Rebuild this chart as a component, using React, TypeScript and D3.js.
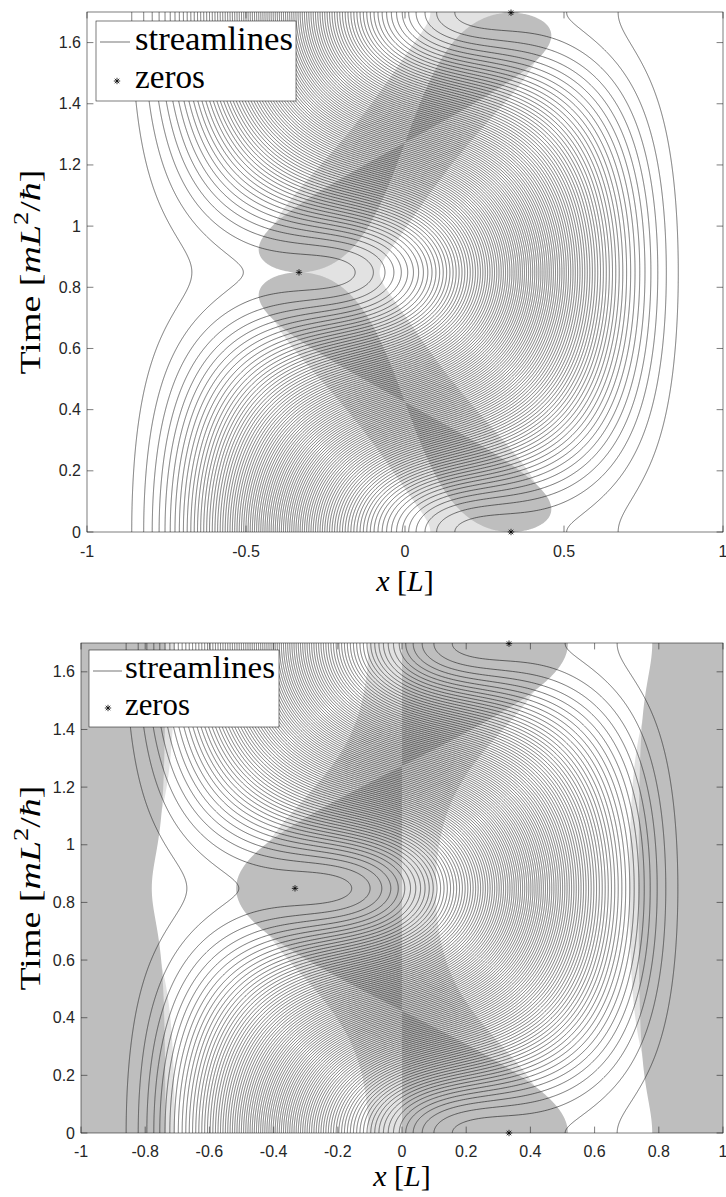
import React, { useMemo } from "react";
import * as d3 from "d3";

// Two lowest eigenstates of an infinite well on [-1, 1] (units L, mL²/ħ; ħ = m = 1)
const X_DOMAIN: [number, number] = [-1, 1];
const T_DOMAIN: [number, number] = [0, 1.7];
const quantumNumbers = [1, 2];
const coefficients = [1, 1];

// nodes of ψ(x, t)
const zeroX = [1 / 3, -1 / 3, 1 / 3];
const zeroT = [0, 0.8488, 1.6977];

// number of streamlines (equal probability between neighbours)
const streamlineCount = 99;

const timeTicks = [0, 0.2, 0.4, 0.6, 0.8, 1, 1.2, 1.4, 1.6];
const xTicksTop = [-1, -0.5, 0, 0.5, 1];
const xTicksBottom = [-1, -0.8, -0.6, -0.4, -0.2, 0, 0.2, 0.4, 0.6, 0.8, 1];
const legendLabels = ["streamlines", "zeros"];

const WIDTH = 726;
const HEIGHT = 1197;

const wavenumbers = quantumNumbers.map((n) => (n * Math.PI) / (X_DOMAIN[1] - X_DOMAIN[0]));
const energies = wavenumbers.map((k) => (k * k) / 2);
const K_MAX = Math.max(...wavenumbers);

// ψ, ψ', ψ'' (real and imaginary parts) at (x, t)
function wave(x: number, t: number): number[] {
  let re = 0, im = 0, dre = 0, dim = 0, d2re = 0, d2im = 0;
  for (let n = 0; n < wavenumbers.length; n++) {
    const k = wavenumbers[n];
    const a = coefficients[n];
    const cp = Math.cos(energies[n] * t);
    const sp = -Math.sin(energies[n] * t);
    const arg = k * (x - X_DOMAIN[0]);
    const sn = Math.sin(arg);
    const cs = Math.cos(arg);
    re += a * sn * cp;
    im += a * sn * sp;
    dre += a * k * cs * cp;
    dim += a * k * cs * sp;
    d2re -= a * k * k * sn * cp;
    d2im -= a * k * k * sn * sp;
  }
  return [re, im, dre, dim, d2re, d2im];
}

// streamlines: level curves of the cumulative probability ∫ρ dx
function computeStreamlines(): [number, number][][] {
  const NXS = 1601;
  const NTS = 1191;
  const dx = (X_DOMAIN[1] - X_DOMAIN[0]) / (NXS - 1);
  const F = new Float64Array(NXS);
  const lines: [number, number][][] = d3.range(streamlineCount).map(() => []);
  for (let j = 0; j < NTS; j++) {
    const t = T_DOMAIN[0] + ((T_DOMAIN[1] - T_DOMAIN[0]) * j) / (NTS - 1);
    let prev = 0;
    F[0] = 0;
    for (let i = 0; i < NXS; i++) {
      const w = wave(X_DOMAIN[0] + i * dx, t);
      const rho = w[0] * w[0] + w[1] * w[1];
      if (i > 0) F[i] = F[i - 1] + 0.5 * (prev + rho) * dx;
      prev = rho;
    }
    const total = F[NXS - 1];
    let p = 0;
    for (let k = 0; k < streamlineCount; k++) {
      const level = (total * (k + 1)) / (streamlineCount + 1);
      while (p < NXS - 2 && F[p + 1] < level) p++;
      const span = F[p + 1] - F[p];
      const f = span > 0 ? (level - F[p]) / span : 0;
      lines[k].push([X_DOMAIN[0] + (p + f) * dx, t]);
    }
  }
  return lines;
}

const NX = 640;
const NY = 546;
const gridDx = (X_DOMAIN[1] - X_DOMAIN[0]) / (NX - 1);
const gridDt = (T_DOMAIN[1] - T_DOMAIN[0]) / (NY - 1);

function computeRegions() {
  const size = NX * NY;
  const negQuantumPotential = new Array(size);
  const fastPhase = new Array(size);
  const highKinetic = new Array(size);
  const convexDensity = new Array(size);
  for (let j = 0; j < NY; j++) {
    const t = T_DOMAIN[0] + j * gridDt;
    for (let i = 0; i < NX; i++) {
      const x = X_DOMAIN[0] + i * gridDx;
      const [re, im, dre, dim, d2re, d2im] = wave(x, t);
      const rho = re * re + im * im;
      const grad2 = dre * dre + dim * dim;
      const curv = re * d2re + im * d2im; // Re(ψ* ψ'')
      const current = re * dim - im * dre; // Im(ψ* ψ')
      const idx = j * NX + i;
      // Bohm quantum potential Q = E_loc - v²/2 < 0
      negQuantumPotential[idx] = curv * rho + current * current - 1e-14;
      // Bohm kinetic energy v²/2 above the largest eigenenergy
      fastPhase[idx] = Math.abs(current) - K_MAX * rho - 1e-9;
      // |ψ'|²/(2ρ) above the largest eigenenergy
      highKinetic[idx] = grad2 - K_MAX * K_MAX * rho;
      // ∂²ρ/∂x² > 0, i.e. E_loc - |ψ'|²/(2ρ) < 0
      convexDensity[idx] = grad2 + curv;
    }
  }
  const gen = d3.contours().size([NX, NY]).thresholds([0]);
  return {
    negQuantumPotential: gen(negQuantumPotential)[0],
    fastPhase: gen(fastPhase)[0],
    highKinetic: gen(highKinetic)[0],
    convexDensity: gen(convexDensity)[0],
  };
}

type Frame = { left: number; right: number; top: number; bottom: number };
type Legend = {
  x: number; y: number; w: number; h: number;
  lineX0: number; lineX1: number; lineY: number;
  textX: number; base1: number; base2: number;
  fontSize: number; len1: number; len2: number;
  starX: number; starY: number;
};

function asterisk(cx: number, cy: number, r: number) {
  const d = r * 0.7071;
  return `M${cx - r},${cy}L${cx + r},${cy}M${cx},${cy - r}L${cx},${cy + r}M${cx - d},${cy - d}L${cx + d},${cy + d}M${cx - d},${cy + d}L${cx + d},${cy - d}`;
}

const AXIS = "#262626";
const LINE = "#1a1a1a";

function Panel(props: {
  id: string;
  frame: Frame;
  xTicks: number[];
  layers: { geom: any; fill: string }[];
  lines: [number, number][][];
  legend: Legend;
  xLabelY: number;
  tickLabelY: number;
}) {
  const { id, frame, xTicks, layers, lines, legend, xLabelY, tickLabelY } = props;
  const xs = d3.scaleLinear().domain(X_DOMAIN).range([frame.left, frame.right]);
  const ys = d3.scaleLinear().domain(T_DOMAIN).range([frame.bottom, frame.top]);
  const proj = d3.geoTransform({
    point: function (px: number, py: number) {
      (this as any).stream.point(
        xs(X_DOMAIN[0] + (px - 0.5) * gridDx),
        ys(T_DOMAIN[0] + (py - 0.5) * gridDt)
      );
    },
  });
  const areaPath = d3.geoPath(proj as any);
  const linePath = d3
    .line<[number, number]>()
    .x((d) => xs(d[0]))
    .y((d) => ys(d[1]));
  const tickLen = 6.4;
  const midY = (frame.top + frame.bottom) / 2;
  const midX = (frame.left + frame.right) / 2;
  return (
    <g>
      <defs>
        <clipPath id={id}>
          <rect x={frame.left} y={frame.top} width={frame.right - frame.left} height={frame.bottom - frame.top} />
        </clipPath>
      </defs>
      <g clipPath={`url(#${id})`}>
        {layers.map((l, i) => (
          <path key={i} d={areaPath(l.geom) || ""} fill={l.fill} stroke="none" />
        ))}
        {lines.map((ln, i) => (
          <path key={i} d={linePath(ln) || ""} fill="none" stroke={LINE} strokeWidth={0.6} />
        ))}
      </g>
      {/* frame and ticks */}
      <rect
        x={frame.left}
        y={frame.top}
        width={frame.right - frame.left}
        height={frame.bottom - frame.top}
        fill="none"
        stroke={AXIS}
        strokeWidth={0.6}
      />
      {xTicks.map((v) => (
        <g key={`x${v}`}>
          <line x1={xs(v)} x2={xs(v)} y1={frame.bottom} y2={frame.bottom - tickLen} stroke={AXIS} strokeWidth={0.6} />
          <line x1={xs(v)} x2={xs(v)} y1={frame.top} y2={frame.top + tickLen} stroke={AXIS} strokeWidth={0.6} />
          <text x={xs(v)} y={tickLabelY} textAnchor="middle" fontFamily="Liberation Sans, Arial, sans-serif" fontSize={16} fill={AXIS}>
            {String(v)}
          </text>
        </g>
      ))}
      {timeTicks.map((v) => (
        <g key={`t${v}`}>
          <line x1={frame.left} x2={frame.left + tickLen} y1={ys(v)} y2={ys(v)} stroke={AXIS} strokeWidth={0.6} />
          <line x1={frame.right} x2={frame.right - tickLen} y1={ys(v)} y2={ys(v)} stroke={AXIS} strokeWidth={0.6} />
          <text x={frame.left - 6} y={ys(v) + 5.5} textAnchor="end" fontFamily="Liberation Sans, Arial, sans-serif" fontSize={16} fill={AXIS}>
            {String(v)}
          </text>
        </g>
      ))}
      {/* nodes */}
      {zeroX.map((zx, i) => (
        <path key={`z${i}`} d={asterisk(xs(zx), ys(zeroT[i]), 3.2)} stroke="#000" strokeWidth={0.8} fill="none" />
      ))}
      {/* legend */}
      <rect x={legend.x} y={legend.y} width={legend.w} height={legend.h} fill="#fff" stroke={AXIS} strokeWidth={0.6} />
      <line x1={legend.lineX0} x2={legend.lineX1} y1={legend.lineY} y2={legend.lineY} stroke={LINE} strokeWidth={0.6} />
      <text x={legend.textX} y={legend.base1} fontFamily="Liberation Serif, Times New Roman, serif" fontSize={legend.fontSize} textLength={legend.len1} lengthAdjust="spacingAndGlyphs" fill="#000">
        {legendLabels[0]}
      </text>
      <path d={asterisk(legend.starX, legend.starY, 3.2)} stroke="#000" strokeWidth={0.8} fill="none" />
      <text x={legend.textX} y={legend.base2} fontFamily="Liberation Serif, Times New Roman, serif" fontSize={legend.fontSize} textLength={legend.len2} lengthAdjust="spacingAndGlyphs" fill="#000">
        {legendLabels[1]}
      </text>
      {/* axis labels */}
      <text
        transform={`translate(40,${midY}) rotate(-90)`}
        textAnchor="middle"
        fontFamily="Liberation Serif, Times New Roman, serif"
        fontSize={30}
        textLength={205}
        lengthAdjust="spacingAndGlyphs"
        fill="#000"
      >
        <tspan>Time [</tspan>
        <tspan fontStyle="italic">mL</tspan>
        <tspan fontSize={21} dy={-12}>2</tspan>
        <tspan dy={12}>/</tspan>
        <tspan fontStyle="italic">ħ</tspan>
        <tspan>]</tspan>
      </text>
      <text x={midX} y={xLabelY} textAnchor="middle" fontFamily="Liberation Serif, Times New Roman, serif" fontSize={30} fill="#000">
        <tspan fontStyle="italic">x</tspan>
        <tspan> [</tspan>
        <tspan fontStyle="italic">L</tspan>
        <tspan>]</tspan>
      </text>
    </g>
  );
}

const topFrame: Frame = { left: 87, right: 723, top: 12, bottom: 532 };
const bottomFrame: Frame = { left: 81, right: 723, top: 643, bottom: 1133 };

const topLegend: Legend = {
  x: 96, y: 21, w: 200, h: 80,
  lineX0: 100, lineX1: 130, lineY: 42,
  textX: 135, base1: 50, base2: 88,
  fontSize: 34, len1: 158, len2: 70,
  starX: 117, starY: 81,
};
const bottomLegend: Legend = {
  x: 89, y: 650, w: 190, h: 77,
  lineX0: 93, lineX1: 122, lineY: 671,
  textX: 125, base1: 678, base2: 715,
  fontSize: 32, len1: 150, len2: 65,
  starX: 108, starY: 708,
};

const LIGHT = "#e2e2e2";
const MID = "#bebebe";

export default function App() {
  const lines = useMemo(() => computeStreamlines(), []);
  const regions = useMemo(() => computeRegions(), []);
  return (
    <svg
      width={WIDTH}
      height={HEIGHT}
      viewBox={`0 0 ${WIDTH} ${HEIGHT}`}
      style={{ position: "absolute", left: 0, top: 0, display: "block", background: "#fff" }}
    >
      <rect x={0} y={0} width={WIDTH} height={HEIGHT} fill="#fff" />
      <Panel
        id="clipTop"
        frame={topFrame}
        xTicks={xTicksTop}
        layers={[
          { geom: regions.negQuantumPotential, fill: LIGHT },
          { geom: regions.fastPhase, fill: MID },
        ]}
        lines={lines}
        legend={topLegend}
        xLabelY={591}
        tickLabelY={557}
      />
      <Panel
        id="clipBottom"
        frame={bottomFrame}
        xTicks={xTicksBottom}
        layers={[
          { geom: regions.convexDensity, fill: LIGHT },
          { geom: regions.highKinetic, fill: MID },
        ]}
        lines={lines}
        legend={bottomLegend}
        xLabelY={1186}
        tickLabelY={1157}
      />
    </svg>
  );
}
